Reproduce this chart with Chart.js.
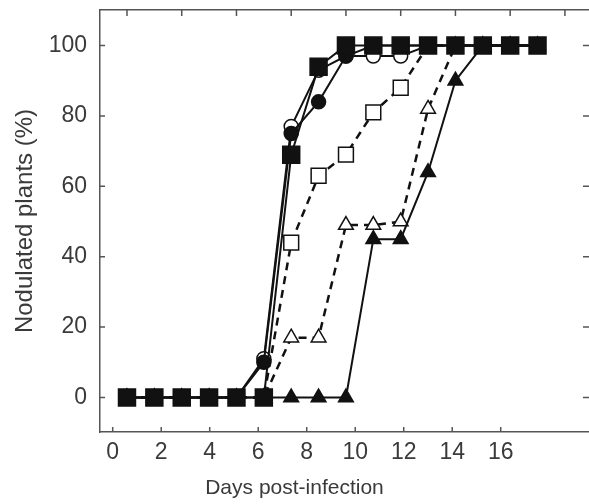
<!DOCTYPE html>
<html>
<head>
<meta charset="utf-8">
<script src="https://cdn.jsdelivr.net/npm/chart.js@4/dist/chart.umd.min.js"></script>
<style>
  html, body { margin: 0; padding: 0; background: #fff; overflow: hidden; }
  #wrap { width: 589px; height: 504px; position: relative; }
</style>
</head>
<body>
<div id="wrap"><canvas id="nodChart"></canvas></div>
<script>
// days after infection (data positions)
const days = [0, 1, 2, 3, 4, 5, 6, 7, 8, 9, 10, 11, 12, 13, 14, 15];
// % nodulated plants per line
const filledSquares   = [0, 0, 0, 0, 0, 0, 69, 94, 100, 100, 100, 100, 100, 100, 100, 100];
const filledCircles   = [0, 0, 0, 0, 0, 10, 75, 84, 97, 100, 100, 100, 100, 100, 100, 100];
const openCircles     = [0, 0, 0, 0, 0, 11, 77, 93, 97, 97, 97, 100, 100, 100, 100, 100];
const openSquares     = [0, 0, 0, 0, 0, 0, 44, 63, 69, 81, 88, 100, 100, 100, 100, 100];
const openTriangles   = [0, 0, 0, 0, 0, 0, 17, 17, 49, 49, 50, 82, 100, 100, 100, 100];
const filledTriangles = [0, 0, 0, 0, 0, 0, 0, 0, 0, 45, 45, 64, 90, 100, 100, 100];
// tick labels
const xTickLabels = [0, 2, 4, 6, 8, 10, 12, 14, 16];
const yTickLabels = [0, 20, 40, 60, 80, 100];

const ink = '#111';
const axisCol = '#555';
const textCol = '#3a3a3a';
const fontFam = "'Liberation Sans', Arial, Helvetica, sans-serif";

function pts(vals) {
  return days.map((d, i) => ({ x: d, y: vals[i] }));
}

function series(label, vals, style, open, dashed, radius) {
  return {
    label: label,
    data: pts(vals),
    xAxisID: 'x2',
    yAxisID: 'y',
    borderColor: ink,
    borderWidth: dashed ? 2.5 : 2,
    borderDash: dashed ? [8, 6] : [],
    pointStyle: style,
    pointRadius: radius,
    pointBorderWidth: 1.5,
    pointBorderColor: ink,
    pointBackgroundColor: open ? '#fff' : ink,
    tension: 0,
    fill: false
  };
}

// no extra padding around the box, sizes set by hand
function fixBox(w, h) {
  return s => {
    if (w !== null) s.width = w;
    if (h !== null) s.height = h;
    s.paddingTop = 0; s.paddingBottom = 0;
    s.paddingLeft = 0; s.paddingRight = 0;
  };
}

// tick marks pointing into the plot box
const innerTicks = {
  id: 'innerTicks',
  afterDraw(chart) {
    const ctx = chart.ctx;
    const a = chart.chartArea;
    ctx.save();
    ctx.strokeStyle = axisCol;
    ctx.lineWidth = 1.5;
    ctx.beginPath();
    chart.scales.x.ticks.forEach(t => {
      const px = chart.scales.x.getPixelForValue(t.value);
      ctx.moveTo(px, a.bottom); ctx.lineTo(px, a.bottom - 5);
    });
    chart.scales.x2.ticks.forEach(t => {
      const px = chart.scales.x2.getPixelForValue(t.value);
      ctx.moveTo(px, a.top); ctx.lineTo(px, a.top + 6);
    });
    chart.scales.y.ticks.forEach(t => {
      const py = chart.scales.y.getPixelForValue(t.value);
      ctx.moveTo(a.left, py); ctx.lineTo(a.left + 5, py);
      ctx.moveTo(a.right, py); ctx.lineTo(a.right - 6, py);
    });
    ctx.stroke();
    ctx.restore();
  }
};

const noGrid = { drawOnChartArea: false, drawTicks: false };

new Chart(document.getElementById('nodChart'), {
  type: 'line',
  data: {
    datasets: [
      series('filled squares', filledSquares, 'rect', false, false, 12),
      series('filled circles', filledCircles, 'circle', false, false, 7),
      series('open circles', openCircles, 'circle', true, false, 7),
      series('open squares', openSquares, 'rect', true, true, 10.5),
      series('filled triangles', filledTriangles, 'triangle', false, false, 8.5),
      series('open triangles', openTriangles, 'triangle', true, true, 8.5)
    ]
  },
  options: {
    responsive: true,
    maintainAspectRatio: false,
    animation: false,
    layout: { padding: 0, autoPadding: false },
    plugins: {
      legend: { display: false },
      tooltip: { enabled: false },
      title: {
        display: true,
        text: 'Days post-infection',
        position: 'bottom',
        fullSize: true,
        color: textCol,
        font: { family: fontFam, size: 21, weight: 'normal' },
        padding: { top: 0, bottom: 3 }
      }
    },
    scales: {
      x: {
        type: 'linear',
        position: 'bottom',
        min: -0.524,
        max: 19.64,
        grid: noGrid,
        border: { color: axisCol, width: 1.5 },
        afterBuildTicks: s => { s.ticks = xTickLabels.map(v => ({ value: v })); },
        afterFit: fixBox(null, 43.8),
        ticks: {
          color: textCol,
          padding: 7,
          maxRotation: 0,
          font: { family: fontFam, size: 23 }
        }
      },
      x2: {
        type: 'linear',
        position: 'top',
        min: -0.986,
        max: 16.88,
        grid: noGrid,
        border: { color: axisCol, width: 1.5 },
        afterBuildTicks: s => { s.ticks = xTickLabels.map(v => ({ value: v })); },
        afterFit: fixBox(null, 10),
        ticks: { display: false }
      },
      y: {
        type: 'linear',
        position: 'left',
        min: -9.8,
        max: 110.1,
        grid: noGrid,
        border: { color: axisCol, width: 1.5 },
        afterBuildTicks: s => { s.ticks = yTickLabels.map(v => ({ value: v })); },
        afterFit: fixBox(100, null),
        ticks: {
          color: textCol,
          padding: 13,
          font: { family: fontFam, size: 23 }
        },
        title: {
          display: true,
          text: 'Nodulated plants (%)',
          color: textCol,
          font: { family: fontFam, size: 24 },
          padding: { top: 11, bottom: 0 }
        }
      },
      y2: {
        type: 'linear',
        position: 'right',
        min: -9.8,
        max: 110.1,
        grid: noGrid,
        border: { display: false },
        afterFit: fixBox(0, null),
        ticks: { display: false }
      }
    }
  },
  plugins: [innerTicks]
});
</script>
</body>
</html>
